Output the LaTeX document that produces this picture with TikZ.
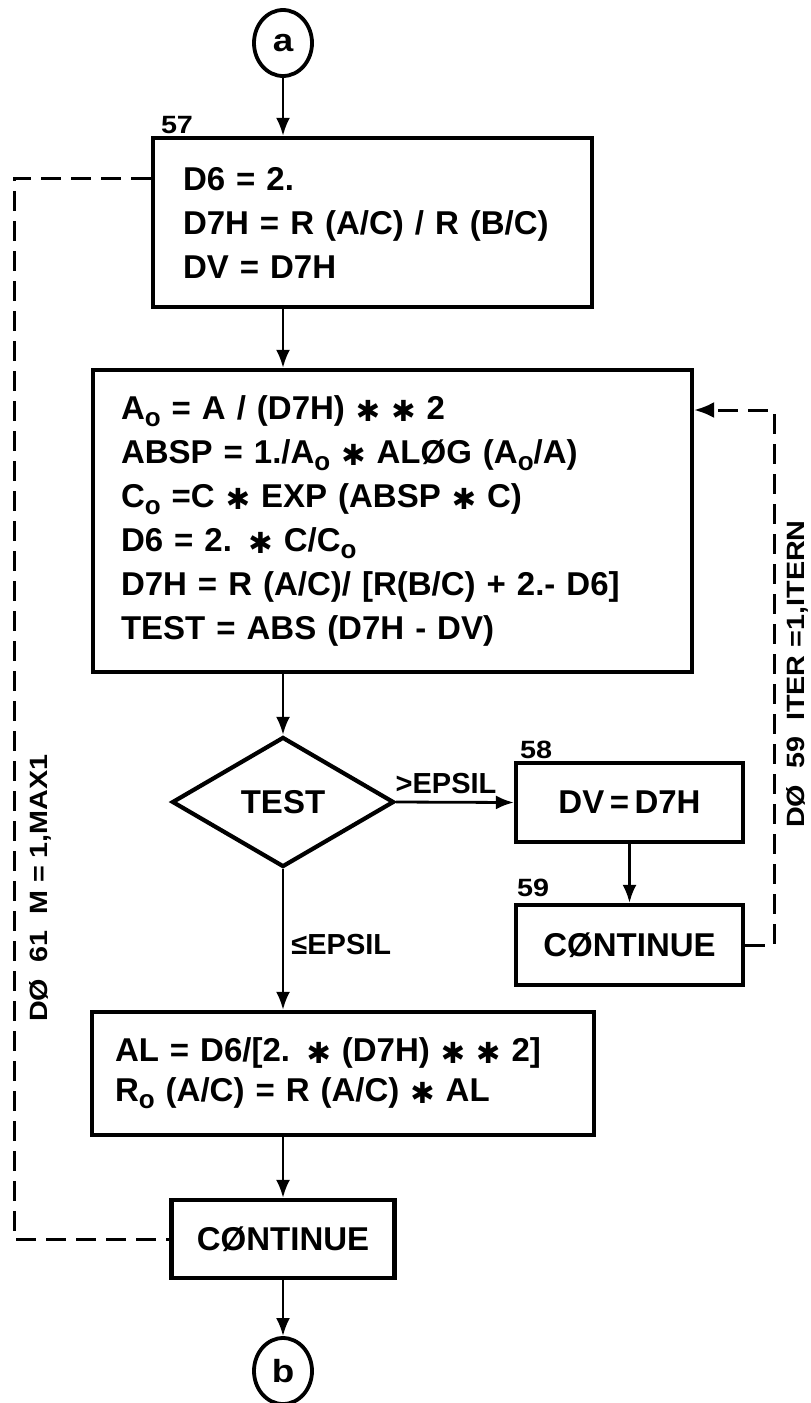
\documentclass[tikz,border=0pt]{standalone}
\usepackage{fontspec}
\setmainfont[FakeStretch=1.0]{Liberation Sans}
\newfontfamily\lblfont[FakeStretch=1.15]{Liberation Sans}
\newfontfamily\dvfont{DejaVu Sans}
\usetikzlibrary{shapes.geometric,arrows.meta}
\newcommand\myast{\raisebox{-0.06em}{\dvfont\bfseries\fontsize{14.5}{14.5}\selectfont ✱}}
\newcommand\lo{\raisebox{-0.22em}{\fontsize{13}{13}\selectfont o}}
\begin{document}
\begin{tikzpicture}[x=0.5pt,y=-0.5pt,
  box/.style={draw, line width=2.1pt, inner ysep=0pt},
  txt/.style={font=\bfseries\fontsize{16.5}{22}\selectfont},
  num/.style={font=\lblfont\bfseries\fontsize{12.5}{12.5}\selectfont, inner sep=0pt},
  lbl/.style={font=\lblfont\bfseries\fontsize{12.5}{12.5}\selectfont, inner sep=0pt},
  conn/.style={draw, ellipse, line width=1.9pt, minimum width=29pt, minimum height=33pt, inner sep=0pt, font=\lblfont\bfseries\fontsize{16}{16}\selectfont},
  arr/.style={-{Latex[length=9pt,width=7pt]}, line width=1.4pt},
  dashloop/.style={line width=1.5pt, dash pattern=on 10pt off 5pt}]
\useasboundingbox (0,0) rectangle (810,1403);

\node[conn] (a) at (283,43) {a};
\node[num] (n57) at (177,125) {57};
\node[box, txt, minimum width=219.5pt, minimum height=84.5pt, text width=189.5pt, inner xsep=15pt, align=left] (b57) at (372.5,222.5)
  {D6 = 2.\\ D7H = R (A/C) / R (B/C)\\ DV = D7H};

\node[box, txt, minimum width=299.5pt, minimum height=151pt, text width=271.5pt, inner xsep=14pt, align=left] (b2) at (392.5,521)
  {A\lo\ = A / (D7H) \myast\ \myast\ 2\\
   ABSP = 1./A\lo\ \myast\ ALØG (A\lo/A)\\
   C\lo\ =C \myast\ EXP (ABSP \myast\ C)\\
   D6 = 2. \myast\ C/C\lo\\
   D7H = R (A/C)/ [R(B/C) + 2.- D6]\\
   TEST = ABS (D7H - DV)};

\node[diamond, draw, line width=2.1pt, minimum width=111pt, minimum height=65pt, inner sep=0pt, txt] (dia) at (283,802) {TEST};
\node[txt, font=\bfseries\fontsize{14.5}{14.5}\selectfont, inner sep=0pt] (gt) at (446,784) {>EPSIL};
\node[num] (n58) at (536,750) {58};
\node[box, txt, minimum width=113.5pt, minimum height=39.5pt] (b58) at (629.5,802.5) {DV\,=\,D7H};
\node[num] (n59) at (533,888) {59};
\node[box, txt, minimum width=113.5pt, minimum height=40pt] (b59) at (629.5,945) {CØNTINUE};
\node[txt, font=\bfseries\fontsize{14.5}{14.5}\selectfont, inner sep=0pt, anchor=west] (le) at (291,945) {≤EPSIL};

\node[box, txt, minimum width=251pt, minimum height=61.5pt, text width=228pt, inner xsep=11.5pt, align=left] (al) at (343,1073.5)
  {AL = D6/[2. \myast\ (D7H) \myast\ \myast\ 2]\\[-2pt]
   R\lo\ (A/C) = R (A/C) \myast\ AL};
\node[box, txt, minimum width=111.5pt, minimum height=39pt] (cont) at (283,1239) {CØNTINUE};
\node[conn] (b) at (283,1371) {b};

\node[lbl, rotate=90] (lp) at (40,888) {DØ\ \ 61\ \ M = 1,MAX1};
\node[lbl, rotate=90] (rp) at (797,674) {DØ\ \ 59\ \ ITER =1,ITERN};

\draw[arr] (a.south) -- (a.south |- b57.north);
\draw[arr] (a.south |- b57.south) -- (a.south |- b2.north);
\draw[arr] (a.south |- b2.south) -- (dia.north);
\draw[arr] (dia.east) -- (b58.west);
\draw[arr] (b58.south) -- (b59.north);
\draw[arr] (dia.south) -- (dia.south |- al.north);
\draw[arr] (cont.north |- al.south) -- (cont.north);
\draw[arr] (cont.south) -- (b.north);

\coordinate (L1) at (14,178);
\coordinate (L2) at (14,1239);
\draw[dashloop] (b57.west |- L1) -- (L1) -- (L2) -- (cont.west);
\coordinate (R1) at (774,945);
\coordinate (R2) at (774,410);
\draw[dashloop, -{Latex[length=10pt,width=8pt]}] (b59.east) -- (R1) -- (R2) -- (b2.east |- R2);
\end{tikzpicture}
\end{document}
